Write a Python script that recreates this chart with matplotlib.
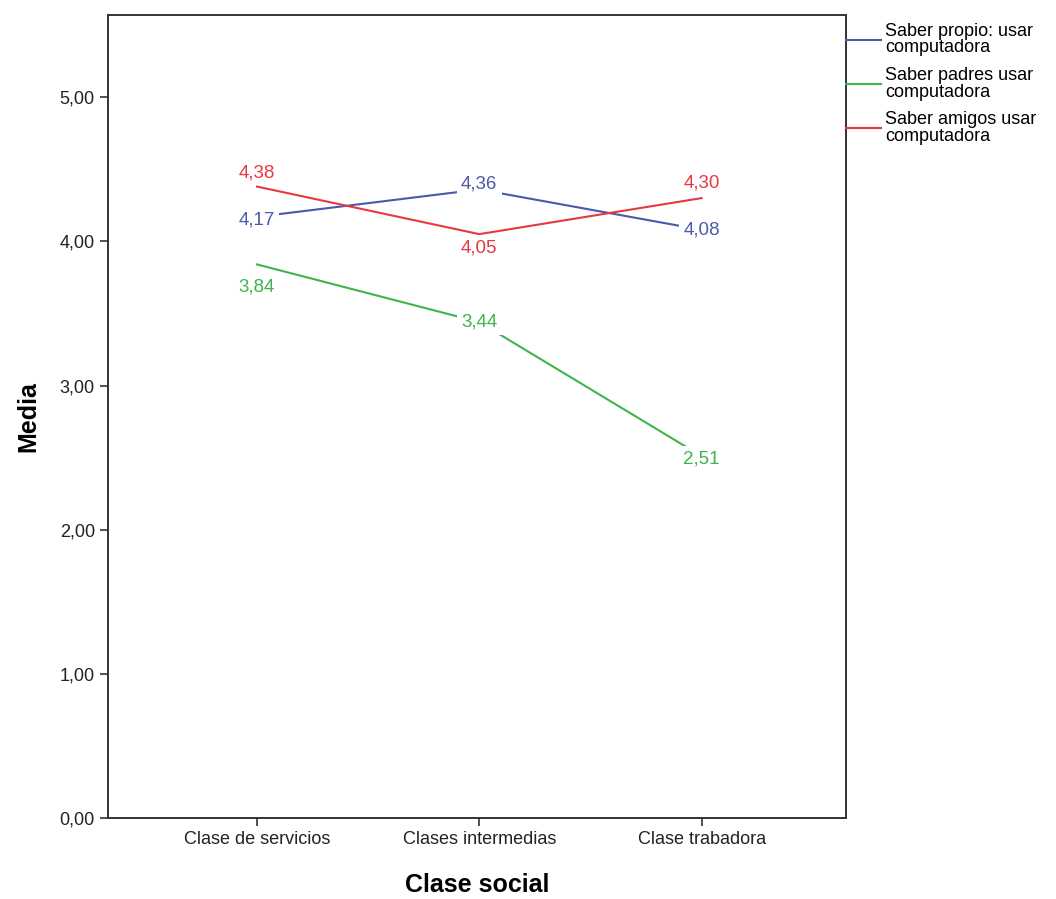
import numpy as np
from matplotlib import pyplot as plt

plt.rcParams['font.family'] = ['Liberation Sans', 'DejaVu Sans']

# Data
clases = ["Clase de servicios", "Clases intermedias", "Clase trabadora"]
saber_propio = [4.17, 4.36, 4.08]
saber_padres = [3.84, 3.44, 2.51]
saber_amigos = [4.38, 4.05, 4.30]
series_names = ["Saber propio: usar\ncomputadora",
                "Saber padres usar\ncomputadora",
                "Saber amigos usar\ncomputadora"]
y_ticks = [0, 1, 2, 3, 4, 5]

colors = ["#4A5AA8", "#3DB54A", "#E8383F"]
# label offsets (points) for each series/category, to mimic the placement
label_dy = [[-2, 4, 0], [-16, 0, -2], [10, -10, 11]]

fig = plt.figure(figsize=(10.56, 8.99), dpi=100)
ax = fig.add_axes([0.1023, 0.0901, 0.6989, 0.8932])

x = np.arange(len(clases))
all_series = [saber_propio, saber_padres, saber_amigos]
for vals, name, col, dys in zip(all_series, series_names, colors, label_dy):
    ax.plot(x, vals, color=col, lw=1.5, label=name, zorder=2)
    for xi, v, dy in zip(x, vals, dys):
        ax.annotate(("%.2f" % v).replace(".", ","), (xi, v),
                    xytext=(0, dy), textcoords="offset points",
                    ha="center", va="center", fontsize=13.5, color=col,
                    bbox=dict(facecolor="white", edgecolor="none", pad=3),
                    zorder=3)

ax.set_xlim(-0.67, 2.65)
ax.set_ylim(0, 5.57)
ax.set_xticks(x)
ax.set_xticklabels(clases, fontsize=13, color="#222222")
ax.set_yticks(y_ticks)
ax.set_yticklabels([("%.2f" % t).replace(".", ",") for t in y_ticks],
                   fontsize=13, color="#222222")
ax.tick_params(direction="out", length=6, width=1.2, color="#333333")

for sp in ax.spines.values():
    sp.set_linewidth(1.4)
    sp.set_color("#333333")

ax.set_ylabel("Media", fontsize=18, fontweight="bold", labelpad=14)
ax.set_xlabel("Clase social", fontsize=18, fontweight="bold", labelpad=18)

leg = ax.legend(loc="upper left", bbox_to_anchor=(1.0, 0.99), frameon=False,
                borderaxespad=0, borderpad=0, handlelength=1.95,
                handletextpad=0.2, labelspacing=0.6, fontsize=13)
for t in leg.get_texts():
    t.set_linespacing(0.95)

fig.savefig("out.png", dpi=100)
